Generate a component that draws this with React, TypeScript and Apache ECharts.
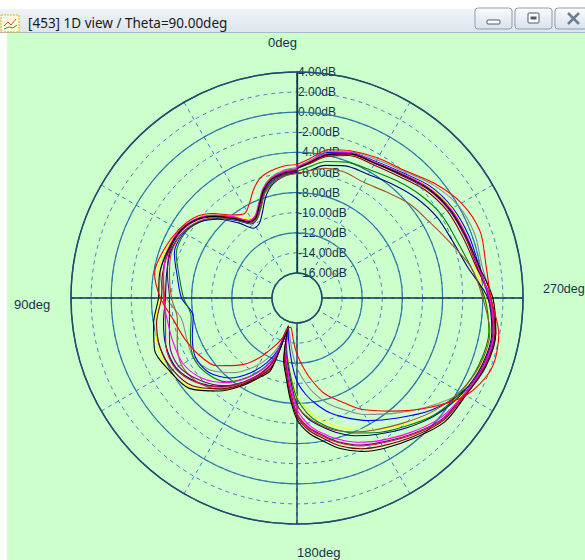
import React, { useEffect, useRef } from "react";
import * as echarts from "echarts";

// Angles in degrees, counter-clockwise from the top (0deg)
const ANGLES = [0, 6, 12, 17, 22, 27, 32, 38, 45, 52, 60, 70, 80, 90, 100, 110, 120, 130, 140, 148, 155, 160, 163, 168, 172, 176, 180, 185, 190, 196, 203, 210, 220, 230, 240, 250, 260, 270, 280, 290, 300, 310, 320, 330, 340, 348, 355, 360];

const RED = [-5.2, -5.3, -5.6, -6.0, -6.9, -8.0, -8.6, -8.0, -6.6, -5.5, -4.9, -4.4, -4.1, -4.9, -6.0, -6.6, -7.2, -8.0, -9.8, -11.5, -13.2, -14.3, -15.3, -15.5, -15.0, -14.0, -12.9, -11.6, -10.2, -8.6, -7.3, -5.7, -3.8, -1.5, 0.9, 2.1, 1.9, 0.8, 0.6, 0.9, 0.4, -0.7, -1.9, -2.4, -2.9, -3.4, -4.6, -5.2];
const GRAY = [-5.5, -5.7, -6.2, -7.0, -8.3, -9.3, -9.4, -8.3, -6.9, -5.8, -5.1, -4.7, -4.7, -5.5, -6.8, -6.8, -6.6, -7.3, -8.8, -10.4, -12.0, -13.6, -15.4, -14.9, -14.0, -12.8, -11.5, -10.2, -8.9, -7.6, -6.4, -5.1, -3.5, -1.6, 0.4, 1.5, 1.6, 0.8, 0.2, 0.3, 0.0, -0.9, -2.0, -2.6, -3.0, -3.6, -4.8, -5.4];
const BLUE = [-5.9, -6.1, -6.6, -7.4, -8.8, -9.7, -9.8, -8.7, -7.3, -6.2, -5.5, -5.5, -6.4, -7.0, -8.0, -7.4, -6.8, -7.0, -8.1, -9.7, -11.4, -13.0, -15.3, -14.4, -13.3, -11.8, -10.2, -8.9, -7.8, -6.6, -5.5, -4.4, -2.9, -1.1, 0.4, 1.3, 1.4, 0.6, -0.1, -0.3, -0.6, -1.2, -2.2, -2.8, -3.1, -3.7, -4.9, -5.6];
const YELLOW = [-5.7, -5.9, -6.3, -7.1, -8.4, -9.3, -9.2, -8.1, -6.8, -5.7, -5.0, -4.6, -4.4, -4.7, -4.2, -3.8, -3.8, -4.7, -6.6, -8.4, -10.3, -12.0, -15.2, -13.6, -12.2, -10.6, -8.7, -7.4, -6.3, -5.3, -4.3, -3.4, -2.0, -0.5, 0.6, 1.0, 0.9, 0.3, -0.5, -0.5, -0.7, -1.3, -2.3, -2.9, -3.2, -3.8, -4.9, -5.6];
const GREEN = [-6.0, -6.2, -6.7, -7.5, -8.8, -9.6, -9.6, -8.6, -7.2, -6.2, -5.6, -5.7, -6.6, -7.2, -7.8, -7.2, -6.6, -6.8, -7.6, -9.2, -10.9, -12.6, -15.3, -13.5, -12.1, -10.4, -8.5, -7.0, -5.9, -4.9, -3.9, -3.0, -1.8, -0.5, 0.3, 0.8, 0.9, 0.2, -0.9, -1.6, -1.9, -2.5, -3.2, -3.8, -4.1, -4.6, -5.4, -5.9];
const NAVY = [-6.0, -6.3, -6.9, -7.9, -9.3, -10.2, -10.3, -9.0, -7.4, -6.2, -5.4, -5.1, -5.3, -5.4, -5.0, -4.6, -4.6, -5.5, -7.0, -8.6, -10.3, -12.0, -15.5, -13.2, -11.8, -10.0, -7.9, -6.5, -5.6, -4.6, -3.6, -2.8, -1.6, -0.4, 0.5, 1.1, 1.2, 0.5, -1.2, -2.0, -2.4, -3.0, -3.7, -4.3, -4.5, -5.0, -5.8, -6.1];
const BROWN = [-6.1, -6.3, -6.8, -7.6, -8.9, -9.7, -9.7, -8.6, -7.2, -6.1, -5.4, -5.2, -5.6, -6.0, -6.4, -5.8, -5.2, -5.5, -6.6, -8.3, -10.0, -11.0, -15.4, -12.8, -11.4, -9.8, -7.8, -6.6, -5.7, -4.8, -4.0, -3.3, -2.2, -0.9, 0.2, 0.9, 1.0, 0.0, -0.9, -2.3, -3.3, -3.9, -4.7, -5.2, -5.1, -5.3, -5.8, -6.1];
const MAGENTA = [-5.6, -5.8, -6.3, -7.1, -8.4, -9.3, -9.4, -8.2, -6.8, -5.7, -5.0, -4.8, -5.0, -5.2, -5.4, -5.4, -5.4, -6.1, -7.5, -9.1, -10.8, -12.5, -15.4, -13.1, -11.6, -9.6, -7.4, -5.9, -4.9, -3.9, -2.9, -2.1, -1.0, 0.1, 0.7, 1.3, 1.4, 0.7, -0.2, -0.5, -0.8, -1.4, -2.3, -2.9, -3.1, -3.8, -4.9, -5.5];
const BLACK = [-5.8, -6.0, -6.4, -7.2, -8.5, -9.5, -9.6, -8.5, -7.0, -5.8, -5.1, -4.8, -4.6, -4.7, -4.0, -3.4, -3.9, -4.5, -6.4, -8.2, -9.8, -10.8, -15.6, -12.1, -10.6, -8.5, -6.4, -5.0, -4.1, -2.9, -1.9, -1.2, -0.3, 0.7, 0.9, 1.5, 1.6, 1.0, -0.1, -0.6, -0.9, -1.5, -2.4, -3.0, -3.2, -3.9, -5.0, -5.6];
const MAROON = [-5.7, -5.9, -6.3, -7.1, -8.4, -9.4, -9.5, -8.4, -6.9, -5.8, -5.1, -4.9, -4.9, -5.0, -4.3, -4.0, -4.2, -4.9, -6.7, -8.4, -10.0, -11.3, -15.5, -12.4, -10.9, -8.8, -6.7, -5.3, -4.4, -3.2, -2.2, -1.5, -0.5, 0.5, 0.8, 1.4, 1.5, 0.8, -0.4, -0.9, -1.2, -1.8, -2.7, -3.2, -3.4, -4.1, -5.1, -5.6];
const PURPLE = [-5.9, -6.1, -6.5, -7.3, -8.6, -9.5, -9.5, -8.4, -7.0, -5.9, -5.2, -5.0, -5.4, -5.8, -5.6, -5.0, -4.9, -5.8, -7.1, -8.7, -10.4, -12.1, -15.4, -12.8, -11.2, -9.2, -7.0, -5.6, -4.7, -3.6, -2.6, -1.9, -0.8, 0.3, 0.7, 1.2, 1.3, 0.6, -0.3, -0.7, -1.0, -1.6, -2.5, -3.0, -3.2, -3.9, -5.0, -5.5];
const CRIMSON = [-5.7, -5.9, -6.4, -7.2, -8.5, -9.4, -9.4, -8.3, -6.9, -5.8, -5.1, -4.8, -5.0, -5.3, -5.2, -4.6, -4.5, -5.4, -6.9, -8.6, -10.2, -11.8, -15.3, -12.6, -11.0, -9.0, -6.9, -5.5, -4.6, -3.5, -2.5, -1.8, -0.7, 0.4, 0.8, 1.3, 1.4, 0.7, -0.2, -0.6, -0.9, -1.5, -2.4, -3.0, -3.3, -4.0, -5.0, -5.5];

const SERIES_NAMES = ["gray", "blue", "yellow", "green", "navy", "brown", "purple", "maroon", "crimson", "magenta", "black", "red"];
const SERIES_VALUES = [GRAY, BLUE, YELLOW, GREEN, NAVY, BROWN, PURPLE, MAROON, CRIMSON, MAGENTA, BLACK, RED];

const ANGLE_LABELS = ["0deg", "90deg", "180deg", "270deg"];
const TITLE = "[453] 1D view / Theta=90.00deg";
const R_MIN = -16;
const R_MAX = 4;

const COLORS: Record<string, string> = {
  red: "#ff0000",
  gray: "#8c8c8c",
  blue: "#0000ff",
  yellow: "#ffff00",
  green: "#008000",
  navy: "#000080",
  brown: "#a0522d",
  magenta: "#ff00ff",
  black: "#000000",
  maroon: "#800000",
  purple: "#800080",
  crimson: "#dc143c",
};

export default function App() {
  const ref = useRef<HTMLDivElement>(null);
  useEffect(() => {
    if (!ref.current) return;
    const chart = echarts.init(ref.current, null, { renderer: "svg" });
    const center = [297, 298];
    const radius = [25, 226];
    const font = "Liberation Sans, Arial, sans-serif";
    const labelColor = "#17324d";

    const series = SERIES_NAMES.map((name, k) => ({
      type: "line",
      name,
      coordinateSystem: "polar",
      polarIndex: 0,
      symbol: "none",
      smooth: 0.3,
      z: 5,
      lineStyle: { color: COLORS[name], width: 1.1 },
      data: ANGLES.map((a, i) => [SERIES_VALUES[k][i], a]),
    }));

    const option: any = {
      animation: false,
      backgroundColor: "#ccffcc",
      polar: [
        { center, radius },
        { center, radius },
      ],
      angleAxis: [
        {
          polarIndex: 1,
          type: "value",
          min: 0,
          max: 360,
          interval: 30,
          startAngle: 90,
          clockwise: false,
          z: 1,
          axisLine: { show: false },
          axisTick: { show: false },
          axisLabel: { show: false },
          splitLine: { show: true, lineStyle: { color: "#3a84c0", width: 1, type: [4, 4] } },
        },
        {
          polarIndex: 0,
          type: "value",
          min: 0,
          max: 360,
          interval: 90,
          startAngle: 90,
          clockwise: false,
          z: 3,
          axisLine: { show: true, lineStyle: { color: "#1f4d66", width: 1.5 } },
          axisTick: { show: false },
          axisLabel: { show: false },
          splitLine: { show: true, lineStyle: { color: "#0f3652", width: 1.3 } },
        },
      ],
      radiusAxis: [
        {
          polarIndex: 1,
          type: "value",
          min: R_MIN,
          max: R_MAX,
          interval: 2,
          z: 1,
          axisLine: { show: false },
          axisTick: { show: false },
          axisLabel: {
            show: true,
            margin: -1,
            align: "left",
            color: labelColor,
            fontFamily: font,
            fontSize: 12,
            formatter: (v: number) => v.toFixed(2) + "dB",
          },
          splitLine: { show: true, lineStyle: { color: "#3a84c0", width: 1, type: [4, 4] } },
        },
        {
          polarIndex: 0,
          type: "value",
          min: R_MIN,
          max: R_MAX,
          interval: 4,
          z: 2,
          axisLine: { show: true, lineStyle: { color: "#0f3652", width: 1.3 } },
          axisTick: { show: false },
          axisLabel: { show: false },
          splitLine: { show: true, lineStyle: { color: "#2a7aa8", width: 1.2 } },
        },
      ],
      graphic: [
        // title bar
        {
          type: "rect",
          shape: { x: 0, y: 0, width: 585, height: 33 },
          style: {
            fill: new echarts.graphic.LinearGradient(0, 0, 0, 1, [
              { offset: 0, color: "#ffffff" },
              { offset: 0.25, color: "#ffffff" },
              { offset: 0.3, color: "#eef2f6" },
              { offset: 1, color: "#dde4ec" },
            ]),
          },
          z: 100,
        },
        { type: "line", shape: { x1: 0, y1: 32.5, x2: 585, y2: 32.5 }, style: { stroke: "#aab8c8", lineWidth: 1 }, z: 101 },
        { type: "rect", shape: { x: 0, y: 33, width: 7, height: 527 }, style: { fill: "#ffffff" }, z: 100 },
        // icon
        { type: "rect", shape: { x: 1, y: 15, width: 18, height: 17 }, style: { fill: "#fffbe0", stroke: "#e0b800", lineWidth: 1, lineDash: [2, 1] }, z: 101 },
        { type: "polyline", shape: { points: [[4, 26], [8, 22], [11, 25], [16, 19]] }, style: { stroke: "#e04040", lineWidth: 1, fill: "none" }, z: 102 },
        { type: "polyline", shape: { points: [[4, 29], [9, 27], [13, 28], [17, 25]] }, style: { stroke: "#30a030", lineWidth: 1, fill: "none" }, z: 102 },
        {
          type: "text",
          x: 28,
          y: 23,
          z: 102,
          style: { text: TITLE, fill: "#1a1a1a", font: "13.5px 'Noto Sans', sans-serif", textVerticalAlign: "middle" },
        },
        // window buttons
        ...[475, 515, 555].map((bx) => ({
          type: "rect",
          z: 101,
          shape: { x: bx, y: 8, width: 37, height: 21, r: 3 },
          style: {
            fill: new echarts.graphic.LinearGradient(0, 0, 0, 1, [
              { offset: 0, color: "#fbfcfd" },
              { offset: 1, color: "#d9e1ea" },
            ]),
            stroke: "#8d9db3",
            lineWidth: 1,
          },
        })),
        { type: "rect", z: 102, shape: { x: 487, y: 20, width: 13, height: 4, r: 1 }, style: { fill: "#ffffff", stroke: "#4a5a70", lineWidth: 1 } },
        { type: "rect", z: 102, shape: { x: 528, y: 13, width: 11, height: 10, r: 1 }, style: { fill: "#ffffff", stroke: "#4a5a70", lineWidth: 1 } },
        { type: "rect", z: 103, shape: { x: 530.5, y: 16.5, width: 6, height: 3 }, style: { fill: "#4a5a70" } },
        { type: "line", z: 102, shape: { x1: 568, y1: 13, x2: 579, y2: 24 }, style: { stroke: "#6d7d92", lineWidth: 2.5 } },
        { type: "line", z: 102, shape: { x1: 579, y1: 13, x2: 568, y2: 24 }, style: { stroke: "#6d7d92", lineWidth: 2.5 } },
        // angle labels
        { type: "text", x: 297, y: 42, z: 50, style: { text: ANGLE_LABELS[0], fill: labelColor, font: `13px ${font}`, textAlign: "right", textVerticalAlign: "middle" } },
        { type: "text", x: 14, y: 304, z: 50, style: { text: ANGLE_LABELS[1], fill: labelColor, font: `13px ${font}`, textAlign: "left", textVerticalAlign: "middle" } },
        { type: "text", x: 297, y: 552, z: 50, style: { text: ANGLE_LABELS[2], fill: labelColor, font: `13px ${font}`, textAlign: "left", textVerticalAlign: "middle" } },
        { type: "text", x: 543, y: 289, z: 50, style: { text: ANGLE_LABELS[3], fill: labelColor, font: `12.5px ${font}`, textAlign: "left", textVerticalAlign: "middle" } },
      ],
      series,
    };
    chart.setOption(option);
    return () => chart.dispose();
  }, []);
  return <div ref={ref} style={{ position: "fixed", left: 0, top: 0, width: 585, height: 560 }} />;
}
